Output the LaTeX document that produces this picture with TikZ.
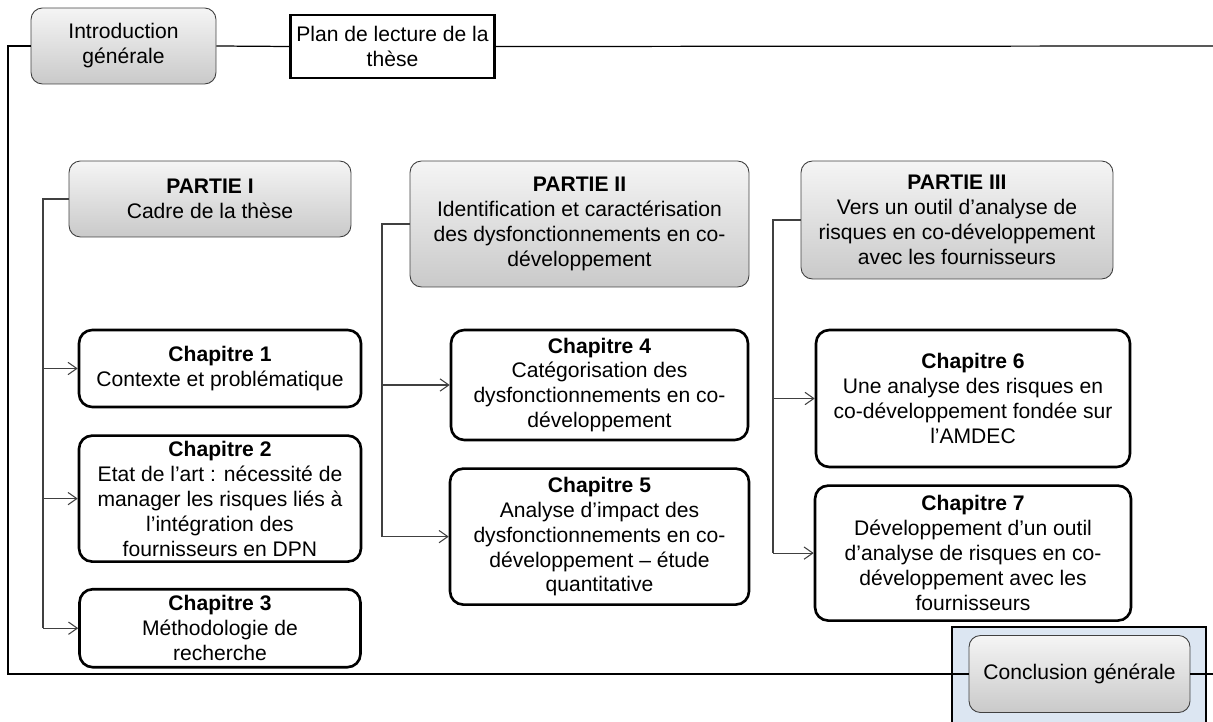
\documentclass[tikz,border=0pt]{standalone}
\usepackage{fontspec}
\setmainfont{Liberation Sans}
\usetikzlibrary{arrows.meta, positioning, calc}

\definecolor{conclbg}{RGB}{220,230,242}

\begin{document}
\begin{tikzpicture}[x=0.02cm, y=-0.02cm,
    font=\fontsize{12}{14.2}\selectfont,
    partbox/.style={rectangle, rounded corners=6.5pt, draw=black!75, line width=0.5pt,
        top color=gray!8, bottom color=gray!42, align=center, inner sep=0pt},
    chapbox/.style={rectangle, rounded corners=7.5pt, draw, line width=1.5pt,
        fill=white, align=center, inner sep=0pt},
    frame/.style={draw=black, line width=0.7pt},
    link/.style={draw=black!75, line width=0.6pt},
    arrow/.style={link, -{Straight Barb[length=5pt, width=7pt]}}
]
    \useasboundingbox (0,0) rectangle (1213,722);

    % Conclusion frame
    \draw[fill=conclbg, line width=1.6pt] (952,627) rectangle (1206,730);

    % Top row
    \node [partbox, minimum width=3.7cm, minimum height=1.52cm] (intro) at (123.5,46) {Introduction\\générale};
    \node [rectangle, draw, line width=1.6pt, fill=white, align=center,
        minimum width=3.9cm, minimum height=1.26cm] (plan) at (392.5,46.5) {Plan de lecture de la\\thèse};
    \node [partbox, minimum width=4.42cm, minimum height=1.54cm] (concl) at (1079.5,674) {Conclusion générale};

    % Parts
    \node [partbox, minimum width=5.64cm, minimum height=1.52cm] (p1) at (210,199) {\textbf{PARTIE I}\\Cadre de la thèse};
    \node [partbox, minimum width=6.78cm, minimum height=2.52cm] (p2) at (579.5,224) {\textbf{PARTIE II}\\Identification et caractérisation\\des dysfonctionnements en co-\\développement};
    \node [partbox, minimum width=6.24cm, minimum height=2.36cm] (p3) at (957,220) {\textbf{PARTIE III}\\Vers un outil d’analyse de\\risques en co-développement\\avec les fournisseurs};

    % Chapters
    \node [chapbox, minimum width=5.64cm, minimum height=1.54cm] (ch1) at (220,368.5) {\textbf{Chapitre 1}\\Contexte et problématique};
    \node [chapbox, minimum width=5.64cm, minimum height=2.52cm, below=0.52cm of ch1] (ch2) {\textbf{Chapitre 2}\\Etat de l’art :  nécessité de\\manager les risques liés à\\l’intégration des\\fournisseurs en DPN};
    \node [chapbox, minimum width=5.62cm, minimum height=1.56cm, below=0.5cm of ch2] (ch3) {\textbf{Chapitre 3}\\Méthodologie de\\recherche};

    \node [chapbox, minimum width=5.94cm, minimum height=2.2cm] (ch4) at (599.5,385) {\textbf{Chapitre 4}\\Catégorisation des\\dysfonctionnements en co-\\développement};
    \node [chapbox, minimum width=5.98cm, minimum height=2.72cm, below=0.52cm of ch4] (ch5) {\textbf{Chapitre 5}\\Analyse d’impact des\\dysfonctionnements en co-\\développement -- étude\\quantitative};

    \node [chapbox, minimum width=6.28cm, minimum height=2.74cm] (ch6) at (973,398.5) {\textbf{Chapitre 6}\\Une analyse des risques en\\co-développement fondée sur\\l’AMDEC};
    \node [chapbox, minimum width=6.32cm, minimum height=2.7cm, below=0.32cm of ch6] (ch7) {\textbf{Chapitre 7}\\Développement d’un outil\\d’analyse de risques en co-\\développement avec les\\fournisseurs};

    % Outer frame
    \coordinate (tl) at (8,46);
    \coordinate (bl) at (8,674);
    \coordinate (tr) at (1214,46);
    \coordinate (br) at (1214,674);
    \draw[frame] (intro.west) -- (tl) -- (bl) -- (concl.west);
    \draw[frame] (intro.east) -- (plan.west);
    \draw[frame] (plan.east) -- (tr);
    \draw[frame] (concl.east) -- (br);

    % Buses from parts to chapters
    \coordinate (bus1) at (43,0);
    \coordinate (bus2) at (382,0);
    \coordinate (bus3) at (773,0);
    \draw[link] (p1.west) -| (bus1 |- ch3.west);
    \draw[link] (p2.west) -| (bus2 |- ch5.west);
    \draw[link] (p3.west) -| (bus3 |- ch7.west);
    \foreach \c in {ch1,ch2,ch3}
        \draw[arrow] (bus1 |- \c.west) -- (\c.west);
    \foreach \c in {ch4,ch5}
        \draw[arrow] (bus2 |- \c.west) -- (\c.west);
    \foreach \c in {ch6,ch7}
        \draw[arrow] (bus3 |- \c.west) -- (\c.west);
\end{tikzpicture}
\end{document}
